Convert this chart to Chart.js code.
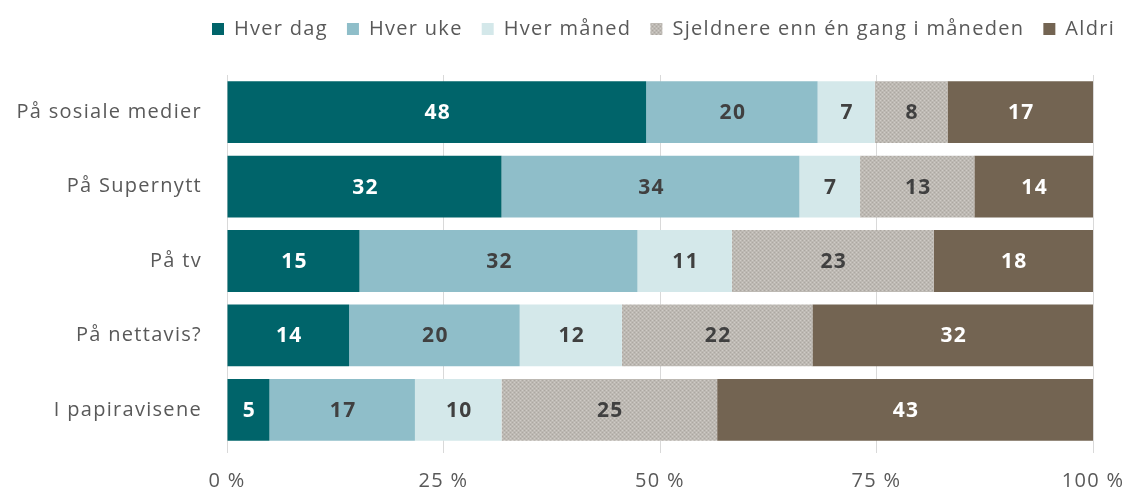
<!DOCTYPE html>
<html>
<head>
<meta charset="utf-8">
<script src="https://cdn.jsdelivr.net/npm/chart.js@4"></script>
<style>
  html, body { margin: 0; padding: 0; background: #fff; }
  #wrap { width: 1128px; height: 495px; }
</style>
</head>
<body>
<div id="wrap"><canvas id="chart"></canvas></div>
<script>
const categories = ["På sosiale medier", "På Supernytt", "På tv", "På nettavis?", "I papiravisene"];
const seriesNames = ["Hver dag", "Hver uke", "Hver måned", "Sjeldnere enn én gang i måneden", "Aldri"];
const hverDag = [48.4, 31.7, 15.3, 14.1, 4.9];
const hverUke = [19.8, 34.4, 32.1, 19.7, 16.8];
const hverMaaned = [6.6, 7.0, 10.9, 11.8, 10.0];
const sjeldnere = [8.4, 13.2, 23.3, 22.0, 24.9];
const aldri = [16.8, 13.7, 18.4, 32.4, 43.4];
const xTicks = [0, 25, 50, 75, 100];

const FONT = '"Open Sans", "DejaVu Sans", sans-serif';
const textGray = "#595959";

// dotted texture for the "Sjeldnere" series
function texture() {
  const p = document.createElement("canvas");
  p.width = 4;
  p.height = 4;
  const g = p.getContext("2d");
  g.fillStyle = "#bdb9b3";
  g.fillRect(0, 0, 4, 4);
  g.fillStyle = "#cfcbc6";
  g.fillRect(0, 0, 1, 1);
  g.fillRect(2, 2, 1, 1);
  g.fillStyle = "#aca7a1";
  g.fillRect(2, 0, 1, 1);
  g.fillRect(0, 2, 1, 1);
  return g.createPattern(p, "repeat");
}

const colors = ["#00646a", "#8fbec9", "#d4e8ea", texture(), "#736452"];
const labelColors = ["#ffffff", "#404040", "#404040", "#404040", "#ffffff"];
const values = [hverDag, hverUke, hverMaaned, sjeldnere, aldri];

const barLabels = {
  id: "barLabels",
  afterDatasetsDraw(chart) {
    const ctx = chart.ctx;
    ctx.save();
    ctx.font = "bold 21px " + FONT;
    ctx.textAlign = "center";
    ctx.textBaseline = "middle";
    chart.data.datasets.forEach((ds, i) => {
      const meta = chart.getDatasetMeta(i);
      meta.data.forEach((bar, j) => {
        ctx.fillStyle = labelColors[i];
        ctx.fillText(Math.round(ds.data[j]), (bar.x + bar.base) / 2 + 1, bar.y + 1);
      });
    });
    ctx.restore();
  },
};

// looser letters like the original, legend placement and room under it
const tweaks = {
  id: "tweaks",
  beforeUpdate(chart) {
    chart.ctx.letterSpacing = "1.3px";
  },
  beforeDraw(chart) {
    chart.ctx.letterSpacing = "1.3px";
  },
  afterInit(chart) {
    if (!chart.legend) return;
    const fit = chart.legend.fit;
    chart.legend.fit = function () {
      fit.call(this);
      this.height += 26;
    };
  },
  afterLayout(chart) {
    if (!chart.legend) return;
    chart.legend.left = 212 - 19;
    chart.legend.right = chart.width + 40;
  },
};

new Chart(document.getElementById("chart"), {
  type: "bar",
  data: {
    labels: categories,
    datasets: seriesNames.map((name, i) => ({
      label: name,
      data: values[i],
      backgroundColor: colors[i],
      borderWidth: 0,
      categoryPercentage: 1,
      barPercentage: 0.83,
    })),
  },
  options: {
    indexAxis: "y",
    responsive: true,
    maintainAspectRatio: false,
    animation: false,
    layout: { padding: { top: 0, right: 35, bottom: 0, left: 0 } },
    scales: {
      x: {
        stacked: true,
        min: 0,
        max: 100,
        afterBuildTicks: (scale) => {
          scale.ticks = xTicks.map((v) => ({ value: v }));
        },
        afterFit: (scale) => {
          scale.height = 48;
          scale.paddingLeft = 0;
          scale.paddingRight = 0;
        },
        ticks: {
          callback: (v) => v + " %",
          color: textGray,
          font: { family: FONT, size: 20 },
          padding: 16,
          maxRotation: 0,
        },
        grid: { color: "#d9d9d9", tickLength: 6, drawTicks: true },
        border: { display: false },
      },
      y: {
        stacked: true,
        afterFit: (scale) => {
          scale.width = 227;
        },
        ticks: {
          color: textGray,
          font: { family: FONT, size: 20 },
          padding: 25,
        },
        grid: { display: false, drawTicks: false },
        border: { display: true, color: "#d9d9d9" },
      },
    },
    plugins: {
      legend: {
        position: "top",
        align: "start",
        labels: {
          boxWidth: 12,
          boxHeight: 12,
          padding: 19,
          color: textGray,
          font: { family: FONT, size: 20, lineHeight: 1 },
        },
      },
      tooltip: { enabled: false },
    },
  },
  plugins: [barLabels, tweaks],
});
</script>
</body>
</html>
